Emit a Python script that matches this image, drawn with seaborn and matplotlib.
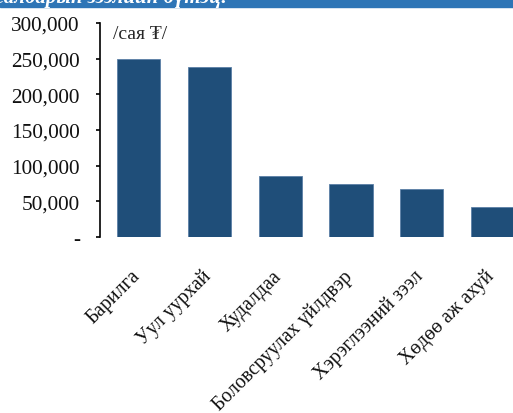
import matplotlib
matplotlib.use("Agg")
import matplotlib.pyplot as plt
import matplotlib.transforms as mtransforms
import seaborn as sns
from matplotlib.ticker import FuncFormatter

sectors = ["Барилга", "Уул уурхай", "Худалдаа", "Боловсруулах үйлдвэр",
           "Хэрэглээний зээл", "Хөдөө аж ахуй"]
loans = [249000, 238000, 85500, 74000, 67000, 42500]
yticks = [0, 50000, 100000, 150000, 200000, 250000, 300000]

sns.set_theme(style="white")
plt.rcParams["font.family"] = ["Liberation Serif", "DejaVu Serif"]

fig = plt.figure(figsize=(5.13, 4.14), dpi=100)
ax = fig.add_axes([100 / 513, 176 / 414, 428 / 513, 214 / 414])

sns.barplot(x=sectors, y=loans, color="#1F4E79", saturation=1, width=0.61,
            edgecolor="#5b7fa6", linewidth=0.6, ax=ax)

ax.set_ylim(0, 300000)
ax.set_xlim(-0.545, 5.5)
ax.set_yticks(yticks)
ax.yaxis.set_major_formatter(FuncFormatter(lambda v, p: "-" if v == 0 else f"{v:,.0f}"))
ax.tick_params(axis="y", left=True, direction="out", length=3, width=1.2,
               color="black", labelsize=15.3, pad=11.5, labelcolor="#111111")
ax.tick_params(axis="x", bottom=False, labelsize=14.2, pad=10)
shift = mtransforms.ScaledTranslation(-8 / 100, -7 / 100, fig.dpi_scale_trans)
for lab in ax.get_xticklabels():
    lab.set_rotation(45)
    lab.set_ha("right")
    lab.set_rotation_mode("anchor")
    lab.set_color("#111111")
    lab.set_transform(lab.get_transform() + shift)

sns.despine(ax=ax, top=True, right=True, bottom=True)
ax.spines["left"].set_color("black")
ax.spines["left"].set_linewidth(1.2)
ax.set_xlabel("")
ax.set_ylabel("")

ax.text(0.03, 0.99, "/сая ₮/", transform=ax.transAxes, fontsize=14,
        va="top", ha="left")

# cut-off title banner at top
fig.patches.append(plt.Rectangle((0, 1 - 8 / 414), 1, 8 / 414, transform=fig.transFigure,
                                 color="#2E75B6", zorder=0))
fig.text(-0.01, 1 - 3 / 414, "салбарын зээлийн бүтэц:", color="white", fontsize=15,
         fontstyle="italic", fontweight="bold", va="baseline", ha="left")

fig.savefig("out.png", dpi=100)
